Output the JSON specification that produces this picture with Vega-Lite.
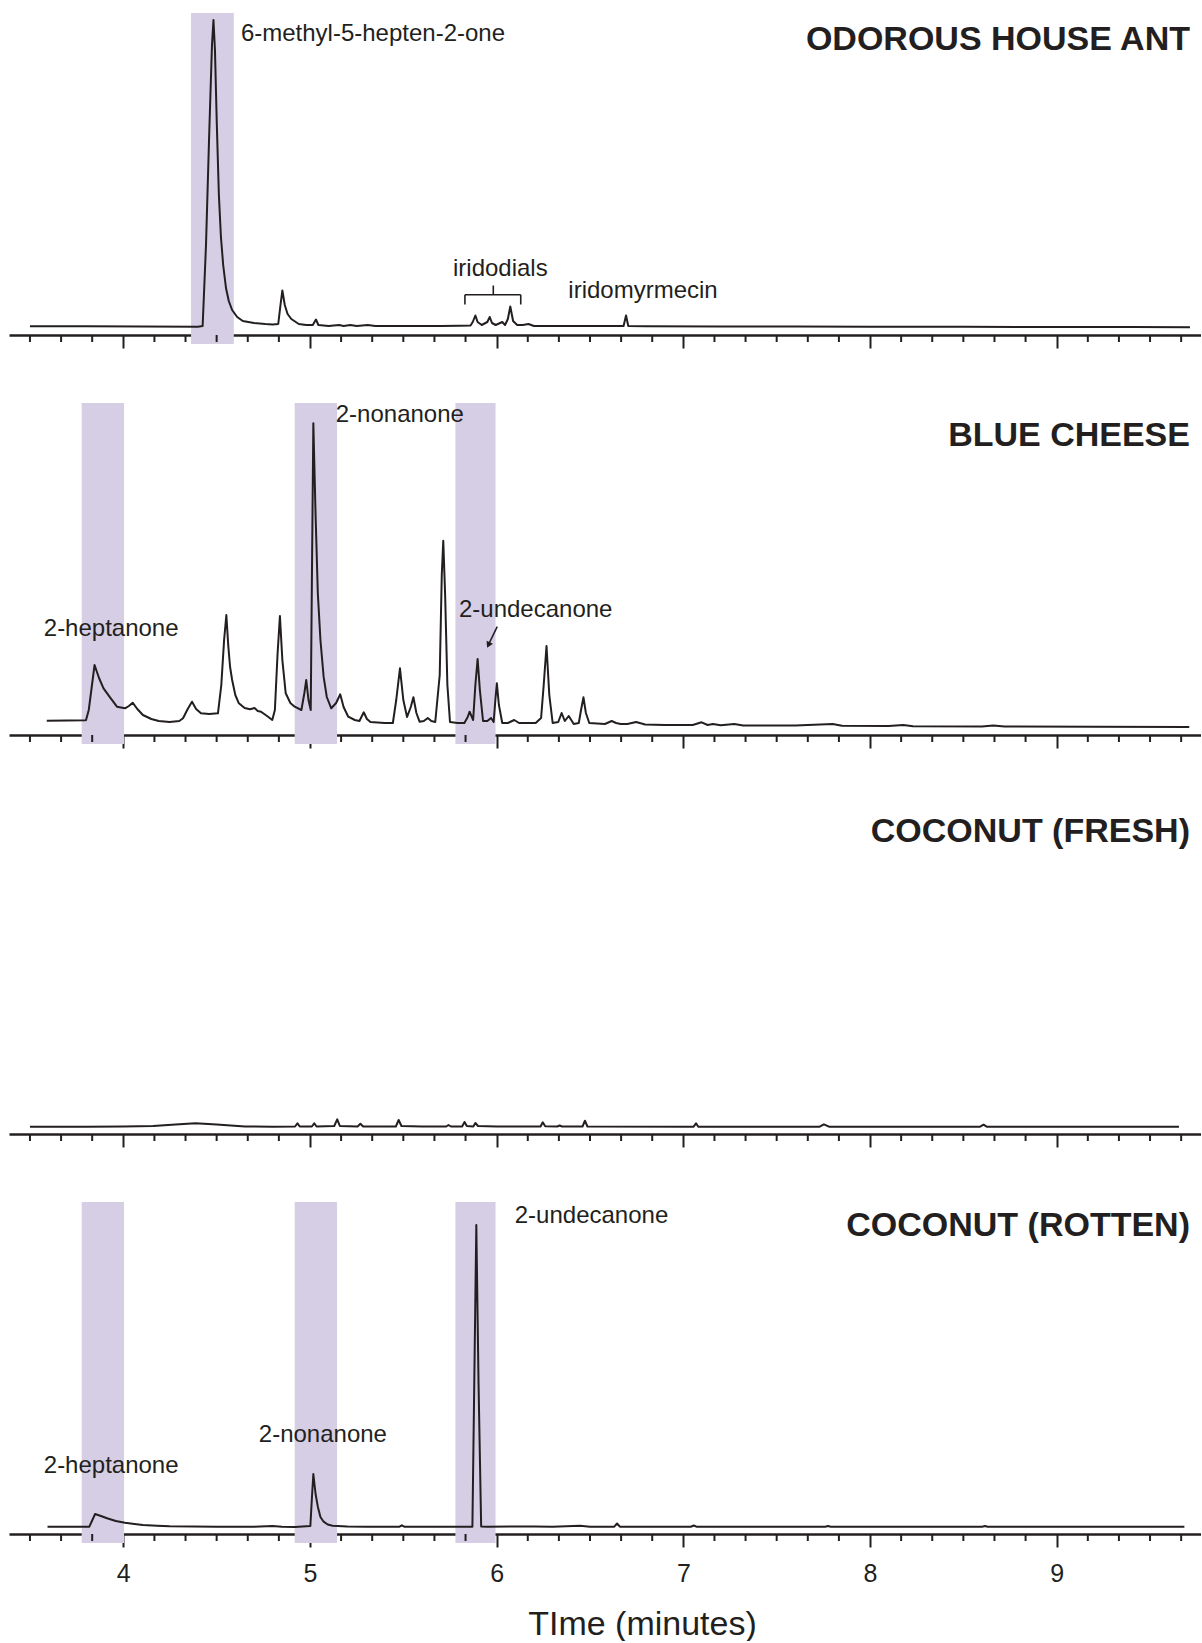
{
  "$schema": "https://vega.github.io/schema/vega-lite/v6.json",
  "padding": {"left": 9, "right": 0, "top": 13, "bottom": 0},
  "autosize": {"type": "pad"},
  "background": "white",
  "spacing": 68,
  "bounds": "flush",
  "config": {
    "view": {"stroke": null},
    "font": "Liberation Sans",
    "axis": {
      "domainColor": "#231f20", "domainWidth": 2.5, "tickColor": "#231f20", "tickWidth": 2, "tickSize": 13,
      "grid": false, "labelFont": "Liberation Sans", "labelFontSize": 25, "labelColor": "#231f20",
      "titleFont": "Liberation Sans", "titleFontSize": 34, "titleFontWeight": "normal", "titleColor": "#231f20", "zindex": 1
    }
  },
  "datasets": {
    "minor": [
      {"t": 3.5}, {"t": 3.6667}, {"t": 3.8333}, {"t": 4.1667}, {"t": 4.3333}, {"t": 4.5}, {"t": 4.6667}, {"t": 4.8333},
      {"t": 5.1667}, {"t": 5.3333}, {"t": 5.5}, {"t": 5.6667}, {"t": 5.8333}, {"t": 6.1667}, {"t": 6.3333}, {"t": 6.5},
      {"t": 6.6667}, {"t": 6.8333}, {"t": 7.1667}, {"t": 7.3333}, {"t": 7.5}, {"t": 7.6667}, {"t": 7.8333}, {"t": 8.1667},
      {"t": 8.3333}, {"t": 8.5}, {"t": 8.6667}, {"t": 8.8333}, {"t": 9.1667}, {"t": 9.3333}, {"t": 9.5}, {"t": 9.6667}
    ],
    "bands": [
      {"panel": "A", "start": 4.363, "end": 4.592},
      {"panel": "B", "start": 3.777, "end": 4.004},
      {"panel": "B", "start": 4.918, "end": 5.145},
      {"panel": "B", "start": 5.779, "end": 5.994},
      {"panel": "D", "start": 3.777, "end": 4.004},
      {"panel": "D", "start": 4.918, "end": 5.145},
      {"panel": "D", "start": 5.779, "end": 5.994}
    ],
    "labels": [
      {"panel": "A", "t": 4.630, "v": 293.8, "text": "6-methyl-5-hepten-2-one"},
      {"panel": "A", "t": 5.766, "v": 58.8, "text": "iridodials"},
      {"panel": "A", "t": 6.384, "v": 36.8, "text": "iridomyrmecin"},
      {"panel": "B", "t": 5.138, "v": 313.3, "text": "2-nonanone"},
      {"panel": "B", "t": 3.574, "v": 99, "text": "2-heptanone"},
      {"panel": "B", "t": 5.798, "v": 117.7, "text": "2-undecanone"},
      {"panel": "D", "t": 6.097, "v": 310.7, "text": "2-undecanone"},
      {"panel": "D", "t": 4.726, "v": 92.3, "text": "2-nonanone"},
      {"panel": "D", "t": 3.574, "v": 61.3, "text": "2-heptanone"}
    ],
    "titles": [
      {"panel": "A", "t": 9.714, "v": 285.2, "text": "ODOROUS HOUSE ANT"},
      {"panel": "B", "t": 9.714, "v": 289, "text": "BLUE CHEESE"},
      {"panel": "C", "t": 9.714, "v": 292, "text": "COCONUT (FRESH)"},
      {"panel": "D", "t": 9.714, "v": 298, "text": "COCONUT (ROTTEN)"}
    ],
    "bracket": [
      {"t": 5.830, "t2": 6.129, "v": 40.2, "v2": 40.2},
      {"t": 5.830, "t2": 5.830, "v": 40.2, "v2": 30.5},
      {"t": 6.129, "t2": 6.129, "v": 40.2, "v2": 30.5},
      {"t": 5.982, "t2": 5.982, "v": 40.2, "v2": 49.5}
    ],
    "arrow": [
      {"t": 6.003, "v": 108.3, "t2": 5.958, "v2": 91}
    ],
    "arrowhead": [
      {"t": 5.956, "v": 90}
    ],
    "trace": [
      {"panel": "A", "t": 3.50, "v": 8.8},
      {"panel": "A", "t": 3.80, "v": 8.8},
      {"panel": "A", "t": 4.10, "v": 8.6},
      {"panel": "A", "t": 4.40, "v": 8.3},
      {"panel": "A", "t": 4.425, "v": 9},
      {"panel": "A", "t": 4.443, "v": 90},
      {"panel": "A", "t": 4.460, "v": 200},
      {"panel": "A", "t": 4.475, "v": 290},
      {"panel": "A", "t": 4.483, "v": 315},
      {"panel": "A", "t": 4.491, "v": 285},
      {"panel": "A", "t": 4.501, "v": 210},
      {"panel": "A", "t": 4.512, "v": 140},
      {"panel": "A", "t": 4.523, "v": 98},
      {"panel": "A", "t": 4.535, "v": 70},
      {"panel": "A", "t": 4.550, "v": 47},
      {"panel": "A", "t": 4.565, "v": 34},
      {"panel": "A", "t": 4.583, "v": 25},
      {"panel": "A", "t": 4.610, "v": 18},
      {"panel": "A", "t": 4.640, "v": 14},
      {"panel": "A", "t": 4.700, "v": 12},
      {"panel": "A", "t": 4.760, "v": 11},
      {"panel": "A", "t": 4.800, "v": 10.5},
      {"panel": "A", "t": 4.830, "v": 11},
      {"panel": "A", "t": 4.842, "v": 30},
      {"panel": "A", "t": 4.852, "v": 44.5},
      {"panel": "A", "t": 4.865, "v": 30},
      {"panel": "A", "t": 4.880, "v": 21},
      {"panel": "A", "t": 4.900, "v": 16},
      {"panel": "A", "t": 4.940, "v": 11},
      {"panel": "A", "t": 4.980, "v": 10},
      {"panel": "A", "t": 5.015, "v": 10},
      {"panel": "A", "t": 5.032, "v": 15.5},
      {"panel": "A", "t": 5.045, "v": 10},
      {"panel": "A", "t": 5.100, "v": 9},
      {"panel": "A", "t": 5.156, "v": 10},
      {"panel": "A", "t": 5.180, "v": 9},
      {"panel": "A", "t": 5.216, "v": 10},
      {"panel": "A", "t": 5.250, "v": 9},
      {"panel": "A", "t": 5.310, "v": 10},
      {"panel": "A", "t": 5.350, "v": 9},
      {"panel": "A", "t": 5.500, "v": 9},
      {"panel": "A", "t": 5.700, "v": 9},
      {"panel": "A", "t": 5.800, "v": 9.2},
      {"panel": "A", "t": 5.860, "v": 9.5},
      {"panel": "A", "t": 5.872, "v": 13},
      {"panel": "A", "t": 5.886, "v": 19.5},
      {"panel": "A", "t": 5.898, "v": 13},
      {"panel": "A", "t": 5.920, "v": 10},
      {"panel": "A", "t": 5.950, "v": 13},
      {"panel": "A", "t": 5.963, "v": 18},
      {"panel": "A", "t": 5.975, "v": 12},
      {"panel": "A", "t": 5.995, "v": 10},
      {"panel": "A", "t": 6.030, "v": 13},
      {"panel": "A", "t": 6.045, "v": 10},
      {"panel": "A", "t": 6.060, "v": 16},
      {"panel": "A", "t": 6.073, "v": 28.5},
      {"panel": "A", "t": 6.088, "v": 14},
      {"panel": "A", "t": 6.110, "v": 10},
      {"panel": "A", "t": 6.140, "v": 10},
      {"panel": "A", "t": 6.170, "v": 11},
      {"panel": "A", "t": 6.200, "v": 9},
      {"panel": "A", "t": 6.400, "v": 9},
      {"panel": "A", "t": 6.600, "v": 9},
      {"panel": "A", "t": 6.680, "v": 9},
      {"panel": "A", "t": 6.693, "v": 19.5},
      {"panel": "A", "t": 6.705, "v": 9},
      {"panel": "A", "t": 6.800, "v": 8.8},
      {"panel": "A", "t": 7.200, "v": 8.6},
      {"panel": "A", "t": 7.600, "v": 8.4},
      {"panel": "A", "t": 8.000, "v": 8.3},
      {"panel": "A", "t": 8.500, "v": 8.2},
      {"panel": "A", "t": 9.000, "v": 8.0},
      {"panel": "A", "t": 9.400, "v": 7.9},
      {"panel": "A", "t": 9.714, "v": 7.8},

      {"panel": "B", "t": 3.590, "v": 14.3},
      {"panel": "B", "t": 3.700, "v": 14.5},
      {"panel": "B", "t": 3.800, "v": 14.8},
      {"panel": "B", "t": 3.815, "v": 25},
      {"panel": "B", "t": 3.846, "v": 70},
      {"panel": "B", "t": 3.870, "v": 57},
      {"panel": "B", "t": 3.894, "v": 46.7},
      {"panel": "B", "t": 3.926, "v": 38.3},
      {"panel": "B", "t": 3.966, "v": 28.3},
      {"panel": "B", "t": 4.009, "v": 26.7},
      {"panel": "B", "t": 4.030, "v": 29},
      {"panel": "B", "t": 4.050, "v": 32.3},
      {"panel": "B", "t": 4.075, "v": 26},
      {"panel": "B", "t": 4.105, "v": 20},
      {"panel": "B", "t": 4.150, "v": 16},
      {"panel": "B", "t": 4.190, "v": 14},
      {"panel": "B", "t": 4.248, "v": 13},
      {"panel": "B", "t": 4.300, "v": 14},
      {"panel": "B", "t": 4.320, "v": 16.7},
      {"panel": "B", "t": 4.345, "v": 26},
      {"panel": "B", "t": 4.368, "v": 33.3},
      {"panel": "B", "t": 4.390, "v": 26},
      {"panel": "B", "t": 4.416, "v": 21.7},
      {"panel": "B", "t": 4.460, "v": 21},
      {"panel": "B", "t": 4.507, "v": 21.7},
      {"panel": "B", "t": 4.525, "v": 50},
      {"panel": "B", "t": 4.540, "v": 95},
      {"panel": "B", "t": 4.552, "v": 120},
      {"panel": "B", "t": 4.562, "v": 90},
      {"panel": "B", "t": 4.572, "v": 68},
      {"panel": "B", "t": 4.583, "v": 55},
      {"panel": "B", "t": 4.600, "v": 40},
      {"panel": "B", "t": 4.619, "v": 31.7},
      {"panel": "B", "t": 4.650, "v": 27},
      {"panel": "B", "t": 4.679, "v": 25.7},
      {"panel": "B", "t": 4.703, "v": 27},
      {"panel": "B", "t": 4.720, "v": 24},
      {"panel": "B", "t": 4.738, "v": 23.3},
      {"panel": "B", "t": 4.770, "v": 19},
      {"panel": "B", "t": 4.798, "v": 15},
      {"panel": "B", "t": 4.812, "v": 25},
      {"panel": "B", "t": 4.826, "v": 80},
      {"panel": "B", "t": 4.839, "v": 119},
      {"panel": "B", "t": 4.852, "v": 75},
      {"panel": "B", "t": 4.870, "v": 41.7},
      {"panel": "B", "t": 4.895, "v": 32},
      {"panel": "B", "t": 4.918, "v": 28.3},
      {"panel": "B", "t": 4.954, "v": 25},
      {"panel": "B", "t": 4.970, "v": 42},
      {"panel": "B", "t": 4.980, "v": 55},
      {"panel": "B", "t": 4.992, "v": 35},
      {"panel": "B", "t": 5.004, "v": 25},
      {"panel": "B", "t": 5.010, "v": 150},
      {"panel": "B", "t": 5.018, "v": 311.7},
      {"panel": "B", "t": 5.030, "v": 220},
      {"panel": "B", "t": 5.042, "v": 141.7},
      {"panel": "B", "t": 5.056, "v": 95},
      {"panel": "B", "t": 5.073, "v": 58.3},
      {"panel": "B", "t": 5.090, "v": 38},
      {"panel": "B", "t": 5.114, "v": 26.7},
      {"panel": "B", "t": 5.140, "v": 32},
      {"panel": "B", "t": 5.162, "v": 40.7},
      {"panel": "B", "t": 5.180, "v": 28},
      {"panel": "B", "t": 5.205, "v": 18.3},
      {"panel": "B", "t": 5.240, "v": 15},
      {"panel": "B", "t": 5.265, "v": 14},
      {"panel": "B", "t": 5.288, "v": 22.7},
      {"panel": "B", "t": 5.305, "v": 16},
      {"panel": "B", "t": 5.324, "v": 13},
      {"panel": "B", "t": 5.400, "v": 12},
      {"panel": "B", "t": 5.444, "v": 12},
      {"panel": "B", "t": 5.462, "v": 35},
      {"panel": "B", "t": 5.482, "v": 66.7},
      {"panel": "B", "t": 5.500, "v": 35},
      {"panel": "B", "t": 5.520, "v": 18},
      {"panel": "B", "t": 5.540, "v": 28},
      {"panel": "B", "t": 5.554, "v": 37.7},
      {"panel": "B", "t": 5.570, "v": 22},
      {"panel": "B", "t": 5.587, "v": 13.3},
      {"panel": "B", "t": 5.610, "v": 14},
      {"panel": "B", "t": 5.631, "v": 17},
      {"panel": "B", "t": 5.650, "v": 14},
      {"panel": "B", "t": 5.671, "v": 13},
      {"panel": "B", "t": 5.695, "v": 60},
      {"panel": "B", "t": 5.706, "v": 160},
      {"panel": "B", "t": 5.714, "v": 194.3},
      {"panel": "B", "t": 5.724, "v": 140},
      {"panel": "B", "t": 5.736, "v": 50},
      {"panel": "B", "t": 5.750, "v": 13},
      {"panel": "B", "t": 5.790, "v": 12},
      {"panel": "B", "t": 5.827, "v": 12},
      {"panel": "B", "t": 5.845, "v": 18},
      {"panel": "B", "t": 5.855, "v": 23.3},
      {"panel": "B", "t": 5.874, "v": 15},
      {"panel": "B", "t": 5.886, "v": 50},
      {"panel": "B", "t": 5.898, "v": 76},
      {"panel": "B", "t": 5.910, "v": 45},
      {"panel": "B", "t": 5.927, "v": 14},
      {"panel": "B", "t": 5.950, "v": 14},
      {"panel": "B", "t": 5.970, "v": 17},
      {"panel": "B", "t": 5.984, "v": 13},
      {"panel": "B", "t": 5.993, "v": 35},
      {"panel": "B", "t": 6.001, "v": 51.7},
      {"panel": "B", "t": 6.012, "v": 30},
      {"panel": "B", "t": 6.030, "v": 12},
      {"panel": "B", "t": 6.060, "v": 12},
      {"panel": "B", "t": 6.094, "v": 15},
      {"panel": "B", "t": 6.120, "v": 12},
      {"panel": "B", "t": 6.209, "v": 12},
      {"panel": "B", "t": 6.238, "v": 17},
      {"panel": "B", "t": 6.252, "v": 50},
      {"panel": "B", "t": 6.267, "v": 89},
      {"panel": "B", "t": 6.282, "v": 40},
      {"panel": "B", "t": 6.300, "v": 12},
      {"panel": "B", "t": 6.330, "v": 13},
      {"panel": "B", "t": 6.348, "v": 22},
      {"panel": "B", "t": 6.365, "v": 14},
      {"panel": "B", "t": 6.386, "v": 19},
      {"panel": "B", "t": 6.413, "v": 11},
      {"panel": "B", "t": 6.440, "v": 12},
      {"panel": "B", "t": 6.452, "v": 25},
      {"panel": "B", "t": 6.465, "v": 37.7},
      {"panel": "B", "t": 6.478, "v": 22},
      {"panel": "B", "t": 6.496, "v": 12},
      {"panel": "B", "t": 6.580, "v": 11},
      {"panel": "B", "t": 6.616, "v": 14},
      {"panel": "B", "t": 6.640, "v": 12},
      {"panel": "B", "t": 6.664, "v": 11},
      {"panel": "B", "t": 6.700, "v": 11},
      {"panel": "B", "t": 6.747, "v": 13},
      {"panel": "B", "t": 6.795, "v": 10.5},
      {"panel": "B", "t": 6.900, "v": 10},
      {"panel": "B", "t": 7.050, "v": 10},
      {"panel": "B", "t": 7.098, "v": 12.7},
      {"panel": "B", "t": 7.130, "v": 10},
      {"panel": "B", "t": 7.159, "v": 11},
      {"panel": "B", "t": 7.200, "v": 9.8},
      {"panel": "B", "t": 7.273, "v": 11},
      {"panel": "B", "t": 7.320, "v": 9.5},
      {"panel": "B", "t": 7.600, "v": 9.5},
      {"panel": "B", "t": 7.800, "v": 11},
      {"panel": "B", "t": 7.850, "v": 9.2},
      {"panel": "B", "t": 8.100, "v": 9},
      {"panel": "B", "t": 8.178, "v": 10},
      {"panel": "B", "t": 8.230, "v": 8.8},
      {"panel": "B", "t": 8.600, "v": 8.6},
      {"panel": "B", "t": 8.660, "v": 9.5},
      {"panel": "B", "t": 8.720, "v": 8.5},
      {"panel": "B", "t": 9.200, "v": 8.2},
      {"panel": "B", "t": 9.710, "v": 8},

      {"panel": "C", "t": 3.500, "v": 7.3},
      {"panel": "C", "t": 3.800, "v": 7.3},
      {"panel": "C", "t": 4.000, "v": 7.5},
      {"panel": "C", "t": 4.160, "v": 8},
      {"panel": "C", "t": 4.280, "v": 9.5},
      {"panel": "C", "t": 4.387, "v": 10.7},
      {"panel": "C", "t": 4.500, "v": 9.5},
      {"panel": "C", "t": 4.652, "v": 7.5},
      {"panel": "C", "t": 4.800, "v": 7.3},
      {"panel": "C", "t": 4.920, "v": 7.5},
      {"panel": "C", "t": 4.933, "v": 10.7},
      {"panel": "C", "t": 4.945, "v": 7.5},
      {"panel": "C", "t": 5.010, "v": 7.5},
      {"panel": "C", "t": 5.023, "v": 10.7},
      {"panel": "C", "t": 5.035, "v": 7.5},
      {"panel": "C", "t": 5.130, "v": 8},
      {"panel": "C", "t": 5.146, "v": 14.7},
      {"panel": "C", "t": 5.160, "v": 8},
      {"panel": "C", "t": 5.255, "v": 7.5},
      {"panel": "C", "t": 5.270, "v": 10.3},
      {"panel": "C", "t": 5.285, "v": 7.5},
      {"panel": "C", "t": 5.460, "v": 7.5},
      {"panel": "C", "t": 5.475, "v": 14},
      {"panel": "C", "t": 5.490, "v": 8},
      {"panel": "C", "t": 5.600, "v": 7.5},
      {"panel": "C", "t": 5.730, "v": 7.5},
      {"panel": "C", "t": 5.742, "v": 9},
      {"panel": "C", "t": 5.755, "v": 7.5},
      {"panel": "C", "t": 5.815, "v": 7.5},
      {"panel": "C", "t": 5.828, "v": 12},
      {"panel": "C", "t": 5.840, "v": 8},
      {"panel": "C", "t": 5.875, "v": 7.5},
      {"panel": "C", "t": 5.886, "v": 11},
      {"panel": "C", "t": 5.900, "v": 8},
      {"panel": "C", "t": 6.000, "v": 7.5},
      {"panel": "C", "t": 6.235, "v": 7.5},
      {"panel": "C", "t": 6.247, "v": 11.7},
      {"panel": "C", "t": 6.260, "v": 7.8},
      {"panel": "C", "t": 6.325, "v": 7.5},
      {"panel": "C", "t": 6.337, "v": 8.5},
      {"panel": "C", "t": 6.350, "v": 7.5},
      {"panel": "C", "t": 6.460, "v": 7.5},
      {"panel": "C", "t": 6.473, "v": 13.3},
      {"panel": "C", "t": 6.486, "v": 7.5},
      {"panel": "C", "t": 7.055, "v": 7.3},
      {"panel": "C", "t": 7.068, "v": 10.7},
      {"panel": "C", "t": 7.080, "v": 7.3},
      {"panel": "C", "t": 7.730, "v": 7.3},
      {"panel": "C", "t": 7.753, "v": 9.7},
      {"panel": "C", "t": 7.780, "v": 7.3},
      {"panel": "C", "t": 8.590, "v": 7.3},
      {"panel": "C", "t": 8.608, "v": 9.3},
      {"panel": "C", "t": 8.625, "v": 7.3},
      {"panel": "C", "t": 9.655, "v": 7.3},

      {"panel": "D", "t": 3.594, "v": 7.3},
      {"panel": "D", "t": 3.700, "v": 7.3},
      {"panel": "D", "t": 3.818, "v": 7.3},
      {"panel": "D", "t": 3.849, "v": 20},
      {"panel": "D", "t": 3.880, "v": 18},
      {"panel": "D", "t": 3.913, "v": 15.7},
      {"panel": "D", "t": 3.960, "v": 13},
      {"panel": "D", "t": 4.009, "v": 11.3},
      {"panel": "D", "t": 4.060, "v": 10},
      {"panel": "D", "t": 4.105, "v": 9},
      {"panel": "D", "t": 4.180, "v": 8.2},
      {"panel": "D", "t": 4.248, "v": 7.7},
      {"panel": "D", "t": 4.500, "v": 7.2},
      {"panel": "D", "t": 4.700, "v": 7.2},
      {"panel": "D", "t": 4.800, "v": 8},
      {"panel": "D", "t": 4.850, "v": 7.2},
      {"panel": "D", "t": 4.918, "v": 7},
      {"panel": "D", "t": 5.002, "v": 8},
      {"panel": "D", "t": 5.010, "v": 35},
      {"panel": "D", "t": 5.018, "v": 60},
      {"panel": "D", "t": 5.030, "v": 40},
      {"panel": "D", "t": 5.042, "v": 27.3},
      {"panel": "D", "t": 5.056, "v": 17},
      {"panel": "D", "t": 5.073, "v": 12.3},
      {"panel": "D", "t": 5.095, "v": 9.5},
      {"panel": "D", "t": 5.121, "v": 8.3},
      {"panel": "D", "t": 5.200, "v": 7.5},
      {"panel": "D", "t": 5.300, "v": 7.3},
      {"panel": "D", "t": 5.480, "v": 7.3},
      {"panel": "D", "t": 5.492, "v": 8.7},
      {"panel": "D", "t": 5.505, "v": 7.3},
      {"panel": "D", "t": 5.800, "v": 7.3},
      {"panel": "D", "t": 5.870, "v": 7.3},
      {"panel": "D", "t": 5.880, "v": 150},
      {"panel": "D", "t": 5.891, "v": 309},
      {"panel": "D", "t": 5.903, "v": 150},
      {"panel": "D", "t": 5.917, "v": 7.5},
      {"panel": "D", "t": 5.950, "v": 7.3},
      {"panel": "D", "t": 6.200, "v": 7.5},
      {"panel": "D", "t": 6.300, "v": 7.3},
      {"panel": "D", "t": 6.447, "v": 8.3},
      {"panel": "D", "t": 6.500, "v": 7.3},
      {"panel": "D", "t": 6.630, "v": 7.3},
      {"panel": "D", "t": 6.645, "v": 10.5},
      {"panel": "D", "t": 6.660, "v": 7.3},
      {"panel": "D", "t": 7.040, "v": 7.3},
      {"panel": "D", "t": 7.056, "v": 8.5},
      {"panel": "D", "t": 7.070, "v": 7.3},
      {"panel": "D", "t": 7.760, "v": 7.3},
      {"panel": "D", "t": 7.775, "v": 8},
      {"panel": "D", "t": 7.790, "v": 7.3},
      {"panel": "D", "t": 8.600, "v": 7.3},
      {"panel": "D", "t": 8.616, "v": 8},
      {"panel": "D", "t": 8.630, "v": 7.3},
      {"panel": "D", "t": 9.684, "v": 7.3}
    ]
  },
  "vconcat": [
    {
      "width": 1192, "height": 322,
      "layer": [
        {
          "data": {"name": "bands"}, "transform": [{"filter": "datum.panel === 'A'"}],
          "mark": {"type": "rect", "color": "#d6cee4", "y2Offset": 9},
          "encoding": {
            "x": {"field": "start", "type": "quantitative", "scale": {"domain": [3.3877, 9.773], "nice": false, "zero": false},
              "axis": {"values": [4, 5, 6, 7, 8, 9], "labels": false, "title": null}},
            "x2": {"field": "end"},
            "y": {"datum": 322, "type": "quantitative", "scale": {"domain": [0, 322], "nice": false}, "axis": null},
            "y2": {"datum": 0}
          }
        },
        {
          "data": {"name": "minor"},
          "mark": {"type": "rule", "color": "#231f20", "strokeWidth": 2, "y2Offset": 7},
          "encoding": {"x": {"field": "t", "type": "quantitative"}, "y": {"datum": 0, "type": "quantitative"}, "y2": {"datum": 0}}
        },
        {
          "data": {"name": "trace"}, "transform": [{"filter": "datum.panel === 'A'"}],
          "mark": {"type": "line", "color": "#231f20", "strokeWidth": 2, "strokeJoin": "round"},
          "encoding": {"x": {"field": "t", "type": "quantitative"}, "y": {"field": "v", "type": "quantitative"}}
        },
        {
          "data": {"name": "bracket"},
          "mark": {"type": "rule", "color": "#231f20", "strokeWidth": 1.6},
          "encoding": {"x": {"field": "t", "type": "quantitative"}, "x2": {"field": "t2"}, "y": {"field": "v", "type": "quantitative"}, "y2": {"field": "v2"}}
        },
        {
          "data": {"name": "labels"}, "transform": [{"filter": "datum.panel === 'A'"}],
          "mark": {"type": "text", "align": "left", "baseline": "alphabetic", "fontSize": 24, "color": "#231f20"},
          "encoding": {"x": {"field": "t", "type": "quantitative"}, "y": {"field": "v", "type": "quantitative"}, "text": {"field": "text"}}
        },
        {
          "data": {"name": "titles"}, "transform": [{"filter": "datum.panel === 'A'"}],
          "mark": {"type": "text", "align": "right", "baseline": "alphabetic", "fontSize": 34, "fontWeight": "bold", "color": "#231f20"},
          "encoding": {"x": {"field": "t", "type": "quantitative"}, "y": {"field": "v", "type": "quantitative"}, "text": {"field": "text"}}
        }
      ]
    },
    {
      "width": 1192, "height": 332,
      "layer": [
        {
          "data": {"name": "bands"}, "transform": [{"filter": "datum.panel === 'B'"}],
          "mark": {"type": "rect", "color": "#d6cee4", "y2Offset": 9},
          "encoding": {
            "x": {"field": "start", "type": "quantitative", "scale": {"domain": [3.3877, 9.773], "nice": false, "zero": false},
              "axis": {"values": [4, 5, 6, 7, 8, 9], "labels": false, "title": null}},
            "x2": {"field": "end"},
            "y": {"datum": 332, "type": "quantitative", "scale": {"domain": [0, 332], "nice": false}, "axis": null},
            "y2": {"datum": 0}
          }
        },
        {
          "data": {"name": "minor"},
          "mark": {"type": "rule", "color": "#231f20", "strokeWidth": 2, "y2Offset": 7},
          "encoding": {"x": {"field": "t", "type": "quantitative"}, "y": {"datum": 0, "type": "quantitative"}, "y2": {"datum": 0}}
        },
        {
          "data": {"name": "trace"}, "transform": [{"filter": "datum.panel === 'B'"}],
          "mark": {"type": "line", "color": "#231f20", "strokeWidth": 2, "strokeJoin": "round"},
          "encoding": {"x": {"field": "t", "type": "quantitative"}, "y": {"field": "v", "type": "quantitative"}}
        },
        {
          "data": {"name": "arrow"},
          "mark": {"type": "rule", "color": "#231f20", "strokeWidth": 1.6},
          "encoding": {"x": {"field": "t", "type": "quantitative"}, "x2": {"field": "t2"}, "y": {"field": "v", "type": "quantitative"}, "y2": {"field": "v2"}}
        },
        {
          "data": {"name": "arrowhead"},
          "mark": {"type": "point", "shape": "triangle-down", "filled": true, "size": 50, "angle": 26, "color": "#231f20", "opacity": 1},
          "encoding": {"x": {"field": "t", "type": "quantitative"}, "y": {"field": "v", "type": "quantitative"}}
        },
        {
          "data": {"name": "labels"}, "transform": [{"filter": "datum.panel === 'B'"}],
          "mark": {"type": "text", "align": "left", "baseline": "alphabetic", "fontSize": 24, "color": "#231f20"},
          "encoding": {"x": {"field": "t", "type": "quantitative"}, "y": {"field": "v", "type": "quantitative"}, "text": {"field": "text"}}
        },
        {
          "data": {"name": "titles"}, "transform": [{"filter": "datum.panel === 'B'"}],
          "mark": {"type": "text", "align": "right", "baseline": "alphabetic", "fontSize": 34, "fontWeight": "bold", "color": "#231f20"},
          "encoding": {"x": {"field": "t", "type": "quantitative"}, "y": {"field": "v", "type": "quantitative"}, "text": {"field": "text"}}
        }
      ]
    },
    {
      "width": 1192, "height": 331,
      "layer": [
        {
          "data": {"name": "trace"}, "transform": [{"filter": "datum.panel === 'C'"}],
          "mark": {"type": "line", "color": "#231f20", "strokeWidth": 2, "strokeJoin": "round"},
          "encoding": {
            "x": {"field": "t", "type": "quantitative", "scale": {"domain": [3.3877, 9.773], "nice": false, "zero": false},
              "axis": {"values": [4, 5, 6, 7, 8, 9], "labels": false, "title": null}},
            "y": {"field": "v", "type": "quantitative", "scale": {"domain": [0, 331], "nice": false}, "axis": null}
          }
        },
        {
          "data": {"name": "minor"},
          "mark": {"type": "rule", "color": "#231f20", "strokeWidth": 2, "y2Offset": 7},
          "encoding": {"x": {"field": "t", "type": "quantitative"}, "y": {"datum": 0, "type": "quantitative"}, "y2": {"datum": 0}}
        },
        {
          "data": {"name": "titles"}, "transform": [{"filter": "datum.panel === 'C'"}],
          "mark": {"type": "text", "align": "right", "baseline": "alphabetic", "fontSize": 34, "fontWeight": "bold", "color": "#231f20"},
          "encoding": {"x": {"field": "t", "type": "quantitative"}, "y": {"field": "v", "type": "quantitative"}, "text": {"field": "text"}}
        }
      ]
    },
    {
      "width": 1192, "height": 332,
      "layer": [
        {
          "data": {"name": "bands"}, "transform": [{"filter": "datum.panel === 'D'"}],
          "mark": {"type": "rect", "color": "#d6cee4", "y2Offset": 9},
          "encoding": {
            "x": {"field": "start", "type": "quantitative", "scale": {"domain": [3.3877, 9.773], "nice": false, "zero": false},
              "axis": {"values": [4, 5, 6, 7, 8, 9], "format": "d",
                "labelOverlap": false, "labelFlush": false, "labelBound": false, "labelPadding": 14,
                "title": "TIme (minutes)", "titleX": 633, "titleY": 100, "titleAlign": "center", "titleBaseline": "alphabetic"}},
            "x2": {"field": "end"},
            "y": {"datum": 332, "type": "quantitative", "scale": {"domain": [0, 332], "nice": false}, "axis": null},
            "y2": {"datum": 0}
          }
        },
        {
          "data": {"name": "minor"},
          "mark": {"type": "rule", "color": "#231f20", "strokeWidth": 2, "y2Offset": 7},
          "encoding": {"x": {"field": "t", "type": "quantitative"}, "y": {"datum": 0, "type": "quantitative"}, "y2": {"datum": 0}}
        },
        {
          "data": {"name": "trace"}, "transform": [{"filter": "datum.panel === 'D'"}],
          "mark": {"type": "line", "color": "#231f20", "strokeWidth": 2, "strokeJoin": "round"},
          "encoding": {"x": {"field": "t", "type": "quantitative"}, "y": {"field": "v", "type": "quantitative"}}
        },
        {
          "data": {"name": "labels"}, "transform": [{"filter": "datum.panel === 'D'"}],
          "mark": {"type": "text", "align": "left", "baseline": "alphabetic", "fontSize": 24, "color": "#231f20"},
          "encoding": {"x": {"field": "t", "type": "quantitative"}, "y": {"field": "v", "type": "quantitative"}, "text": {"field": "text"}}
        },
        {
          "data": {"name": "titles"}, "transform": [{"filter": "datum.panel === 'D'"}],
          "mark": {"type": "text", "align": "right", "baseline": "alphabetic", "fontSize": 34, "fontWeight": "bold", "color": "#231f20"},
          "encoding": {"x": {"field": "t", "type": "quantitative"}, "y": {"field": "v", "type": "quantitative"}, "text": {"field": "text"}}
        }
      ]
    }
  ]
}
